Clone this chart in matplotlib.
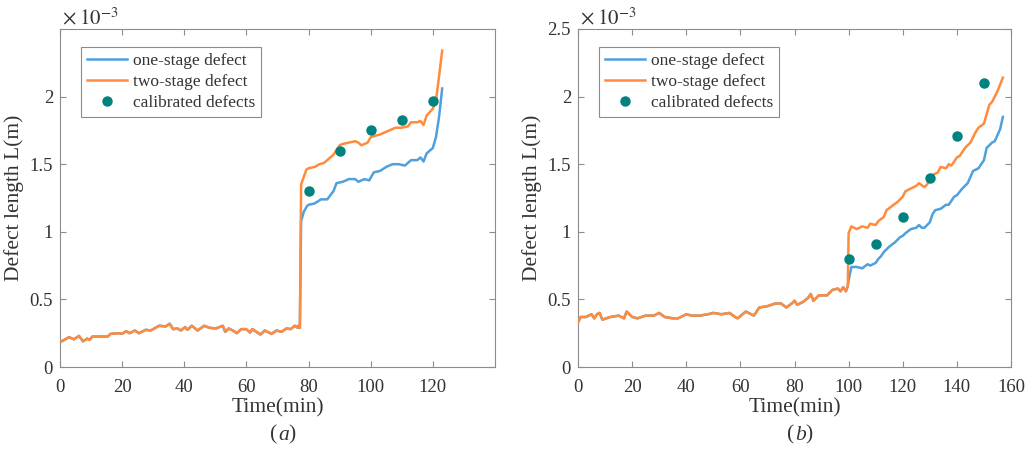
import matplotlib
matplotlib.use("Agg")
import matplotlib.pyplot as plt
from matplotlib.ticker import FuncFormatter
import numpy as np

plt.rcParams['font.family'] = ['Liberation Serif', 'DejaVu Serif']
plt.rcParams['mathtext.fontset'] = 'stix'

# ---------------- Panel (a) data (values in 1e-3 m) ----------------
ta_low = [0.5, 2.9, 4.5, 6.1, 7.4, 8.8, 9.5, 10.4, 15.3, 16.3, 19, 20, 21.3, 22.4, 24.1, 25.4,
          27.6, 29.2, 31.9, 34.0, 35.3, 36.4, 37.8, 38.9, 40.3, 41, 42.4, 44.3, 46.4, 48.1,
          50.2, 51.3, 52.4, 53.2, 54.3, 55.6, 56.9, 58.3, 59.9, 61.2, 61.9, 63.2, 64.5, 65.9,
          68.1, 69.7, 71.3, 72.9, 74.2, 75.6, 76.5, 76.9, 77.2]
va_low = [0.19, 0.22, 0.205, 0.23, 0.19, 0.21, 0.20, 0.225, 0.225, 0.245, 0.25, 0.245, 0.265, 0.25,
          0.27, 0.25, 0.275, 0.27, 0.305, 0.30, 0.32, 0.28, 0.285, 0.27, 0.295, 0.275, 0.305,
          0.27, 0.305, 0.29, 0.285, 0.295, 0.305, 0.26, 0.285, 0.27, 0.25, 0.28, 0.28, 0.255,
          0.28, 0.26, 0.24, 0.27, 0.245, 0.27, 0.26, 0.285, 0.28, 0.305, 0.29, 0.31, 0.29]

ta_two = [77.6, 79.3, 80, 82, 83.5, 85, 86.5, 88, 90, 91, 93, 95, 96, 97, 99, 100, 101.5,
          103, 106, 108, 110, 112, 113, 115, 116, 117, 118, 120, 121, 122, 123]
va_two = [1.35, 1.46, 1.47, 1.48, 1.50, 1.51, 1.54, 1.57, 1.64, 1.65, 1.66, 1.67, 1.66, 1.64,
          1.66, 1.70, 1.71, 1.72, 1.75, 1.77, 1.77, 1.78, 1.81, 1.81, 1.82, 1.79, 1.86, 1.91,
          1.97, 2.15, 2.34]

ta_one = [77.6, 78.5, 79.5, 80, 82, 84, 86, 88, 89, 91, 93, 95, 96, 98, 99.5, 101, 103, 105,
          107, 109, 111, 113, 115, 116, 117, 118, 120, 121, 122, 123]
va_one = [1.08, 1.15, 1.19, 1.20, 1.21, 1.24, 1.24, 1.30, 1.36, 1.37, 1.39, 1.39, 1.37, 1.39,
          1.38, 1.44, 1.45, 1.48, 1.50, 1.50, 1.49, 1.53, 1.53, 1.55, 1.52, 1.58, 1.62, 1.70,
          1.85, 2.06]

ta_cal = [80, 90, 100, 110, 120]
va_cal = [1.30, 1.60, 1.75, 1.83, 1.97]

# ---------------- Panel (b) data (values in 1e-3 m) ----------------
tb_low = [0, 1, 3, 5, 6, 7, 8, 9, 12, 15, 17, 18, 20, 22, 25, 28, 30, 32, 35, 37, 40, 42, 45,
          48, 50, 53, 56, 58, 59, 62, 64, 65, 67, 70, 73, 75, 77, 79, 80, 81, 83, 85, 86, 87,
          89, 92, 94, 96, 97, 98, 99, 99.7]
vb_low = [0.33, 0.37, 0.37, 0.39, 0.36, 0.39, 0.40, 0.35, 0.37, 0.38, 0.36, 0.41, 0.37, 0.36,
          0.38, 0.38, 0.40, 0.37, 0.36, 0.36, 0.39, 0.38, 0.38, 0.39, 0.40, 0.39, 0.40, 0.37,
          0.36, 0.41, 0.39, 0.38, 0.44, 0.45, 0.47, 0.47, 0.44, 0.47, 0.49, 0.46, 0.48, 0.51,
          0.54, 0.49, 0.53, 0.53, 0.57, 0.58, 0.56, 0.59, 0.56, 0.60]

tb_two = [100, 101, 103, 105, 107, 108, 110, 111, 113, 114, 116, 118, 120, 121, 123, 125, 126,
          128, 129, 131, 133, 134, 136, 137, 138, 140, 141, 143, 145, 147, 148, 150, 151, 152,
          153, 155, 157]
vb_two = [0.99, 1.04, 1.02, 1.04, 1.03, 1.06, 1.05, 1.08, 1.11, 1.16, 1.19, 1.22, 1.26, 1.30,
          1.32, 1.34, 1.36, 1.33, 1.35, 1.42, 1.44, 1.48, 1.47, 1.50, 1.49, 1.55, 1.56, 1.62,
          1.66, 1.74, 1.77, 1.80, 1.87, 1.94, 1.96, 2.04, 2.14]

tb_one = [100, 101, 103, 105, 107, 108, 110, 111, 112, 113, 115, 117, 119, 120, 121, 123, 125,
          126, 127, 128, 130, 131, 132, 134, 136, 137, 139, 140, 142, 144, 146, 148, 150, 151,
          153, 154, 156, 157]
vb_one = [0.64, 0.74, 0.74, 0.73, 0.76, 0.75, 0.77, 0.80, 0.82, 0.85, 0.89, 0.92, 0.96, 0.97,
          0.99, 1.02, 1.03, 1.05, 1.03, 1.03, 1.07, 1.13, 1.16, 1.17, 1.20, 1.20, 1.26, 1.27,
          1.32, 1.36, 1.45, 1.47, 1.53, 1.62, 1.66, 1.67, 1.76, 1.85]

tb_cal = [100, 110, 120, 130, 140, 150]
vb_cal = [0.80, 0.91, 1.11, 1.40, 1.71, 2.10]

labels = ['one-stage defect', 'two-stage defect', 'calibrated defects']
panel_tags = ['(a)', '(b)']

C_ONE = '#4FA0DC'
C_TWO = '#FF8B3D'
C_CAL = '#00827F'
SPINE = '#8c8c8c'
TXT = '#333333'

fig = plt.figure(figsize=(10.31, 4.51), dpi=100)
ax_a = fig.add_axes([60/1031, 84/451, 435/1031, 338/451])
ax_b = fig.add_axes([578/1031, 84/451, 433/1031, 338/451])

panels = [
    (ax_a, ta_low, va_low, ta_one, va_one, ta_two, va_two, ta_cal, va_cal,
     (0, 140), [0, 20, 40, 60, 80, 100, 120], [0, 0.5, 1, 1.5, 2]),
    (ax_b, tb_low, vb_low, tb_one, vb_one, tb_two, vb_two, tb_cal, vb_cal,
     (0, 160), [0, 20, 40, 60, 80, 100, 120, 140, 160], [0, 0.5, 1, 1.5, 2, 2.5]),
]

fmt = FuncFormatter(lambda v, p: ('%g' % v))

for i, (ax, tl, vl, t1, v1, t2, v2, tc, vc, xl, xt, yt) in enumerate(panels):
    ax.plot(tl + t1, vl + v1, color=C_ONE, lw=1.8, label=labels[0], zorder=2)
    ax.plot(tl + t2, vl + v2, color=C_TWO, lw=1.8, label=labels[1], zorder=3)
    ax.plot(tc, vc, 'o', color=C_CAL, ms=6.5, label=labels[2], zorder=4)
    ax.set_xlim(*xl)
    ax.set_ylim(0, 2.5)
    ax.set_xticks(xt)
    ax.set_yticks(yt)
    ax.xaxis.set_major_formatter(fmt)
    ax.yaxis.set_major_formatter(fmt)
    for s in ax.spines.values():
        s.set_color(SPINE)
        s.set_linewidth(0.8)
    ax.tick_params(direction='in', length=4, width=0.8, color=SPINE, labelcolor=TXT,
                   labelsize=13.5, top=True, right=True)
    ax.tick_params(axis='x', pad=9)
    ax.tick_params(axis='y', pad=5)
    ax.set_xlabel('Time(min)', fontsize=15.5, color=TXT, labelpad=1)
    ax.set_ylabel('Defect length L(m)', fontsize=15.5, color=TXT, labelpad=4)
    ax.text(0.005, 1.0, r'$\times\;10^{-3}$', transform=ax.transAxes, fontsize=15,
            color=TXT, ha='left', va='bottom')
    leg = ax.legend(loc='upper left', bbox_to_anchor=(0.048, 0.947), borderaxespad=0,
                    fontsize=12.5, frameon=True, fancybox=False, framealpha=1,
                    edgecolor=SPINE, handlelength=2.3, handletextpad=0.35,
                    borderpad=0.35, labelspacing=0.28)
    leg.get_frame().set_linewidth(0.8)
    for txt in leg.get_texts():
        txt.set_color(TXT)
    pos = ax.get_position()
    fig.text(pos.x0 + pos.width / 2, 0.035, panel_tags[i][0], fontsize=15.5, color=TXT,
             ha='right', va='center')
    fig.text(pos.x0 + pos.width / 2 + 0.0005, 0.035, panel_tags[i][1], fontsize=15.5, color=TXT,
             ha='left', va='center', style='italic')
    fig.text(pos.x0 + pos.width / 2 + 0.0105, 0.035, panel_tags[i][2], fontsize=15.5, color=TXT,
             ha='left', va='center')

fig.savefig('out.png', dpi=100, facecolor='white')
